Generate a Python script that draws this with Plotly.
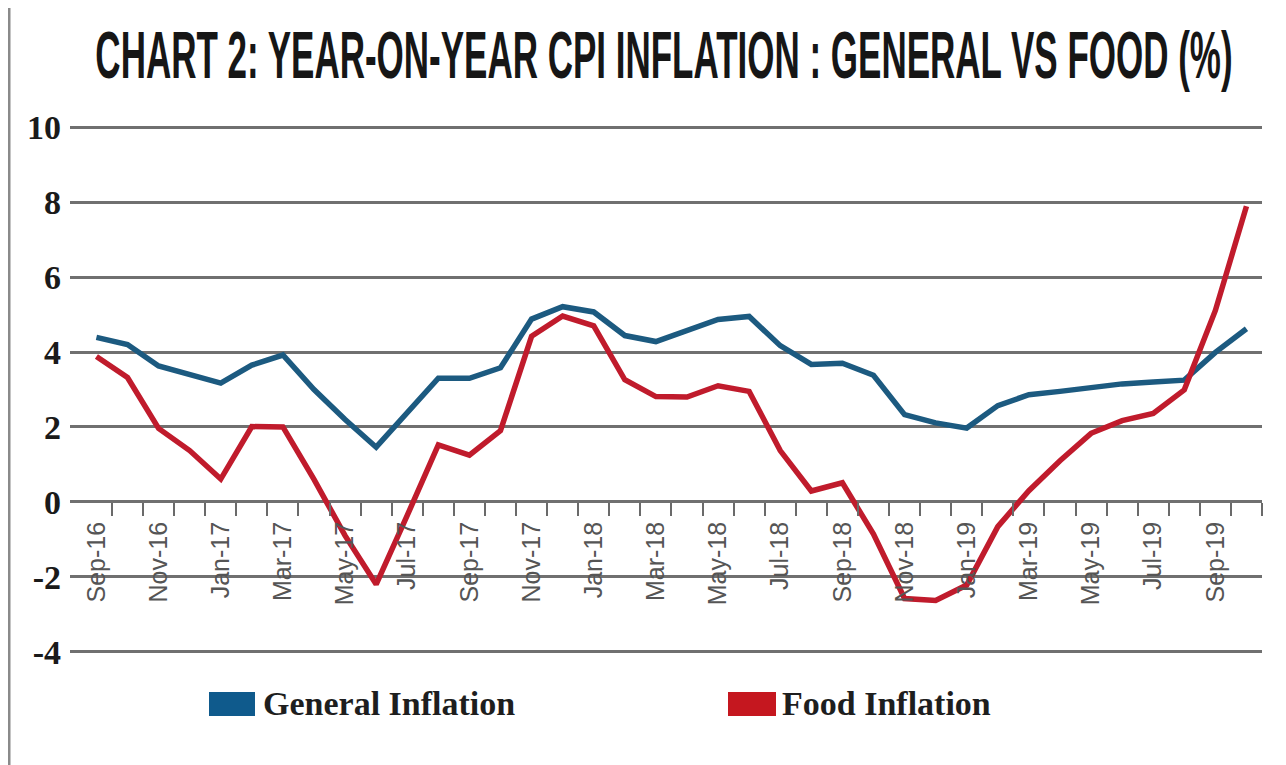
import plotly.graph_objects as go

# ---------------- data ----------------
months = ["Sep-16", "Oct-16", "Nov-16", "Dec-16", "Jan-17", "Feb-17", "Mar-17", "Apr-17",
          "May-17", "Jun-17", "Jul-17", "Aug-17", "Sep-17", "Oct-17", "Nov-17", "Dec-17",
          "Jan-18", "Feb-18", "Mar-18", "Apr-18", "May-18", "Jun-18", "Jul-18", "Aug-18",
          "Sep-18", "Oct-18", "Nov-18", "Dec-18", "Jan-19", "Feb-19", "Mar-19", "Apr-19",
          "May-19", "Jun-19", "Jul-19", "Aug-19", "Sep-19", "Oct-19"]

general_inflation = [4.39, 4.20, 3.63, 3.41, 3.17, 3.65, 3.92, 3.00, 2.20, 1.46, 2.36, 3.30,
                     3.30, 3.58, 4.88, 5.21, 5.07, 4.44, 4.28, 4.58, 4.87, 4.95, 4.17, 3.67,
                     3.70, 3.38, 2.33, 2.11, 1.97, 2.57, 2.86, 2.95, 3.05, 3.15, 3.20, 3.25,
                     3.99, 4.62]

food_inflation = [3.88, 3.32, 1.96, 1.37, 0.61, 2.01, 2.00, 0.60, -0.90, -2.20, -0.36, 1.52,
                  1.25, 1.90, 4.42, 4.96, 4.70, 3.26, 2.81, 2.80, 3.10, 2.95, 1.37, 0.29,
                  0.51, -0.86, -2.58, -2.63, -2.22, -0.66, 0.30, 1.10, 1.83, 2.17, 2.36, 2.99,
                  5.11, 7.89]

series_names = ["General Inflation", "Food Inflation"]
y_ticks = [-4, -2, 0, 2, 4, 6, 8, 10]
title_text = "CHART 2: YEAR-ON-YEAR CPI INFLATION : GENERAL VS FOOD (%)"

# ---------------- style ----------------
BLUE_LINE = "#1c5a80"
RED_LINE = "#c01b2c"
BLUE_KEY = "#0f5a8c"
RED_KEY = "#c5171f"
GRID = "#707070"

OFF = 8                      # page body margin
W, H = 1286 - OFF, 765 - OFF
L, R, T, B = 62, 24, 117, 111
plot_w = W - L - R
plot_h = H - T - B
y_lo, y_hi = y_ticks[0] - 0.06, y_ticks[-1] + 0.06


def px_x(p):                 # screen pixel -> paper x
    return (p - OFF - L) / plot_w


def px_y(p):                 # screen pixel -> paper y
    return (H - B - (p - OFF)) / plot_h


idx = list(range(len(months)))

fig = go.Figure()
fig.add_trace(go.Scatter(x=idx, y=general_inflation, mode="lines", name=series_names[0],
                         line=dict(color=BLUE_LINE, width=5.5), showlegend=False))
fig.add_trace(go.Scatter(x=idx, y=food_inflation, mode="lines", name=series_names[1],
                         line=dict(color=RED_LINE, width=5.5), showlegend=False))

# manual legend (coloured blocks + text)
legend_items = [
    (series_names[0], BLUE_KEY, 209, 255, 261),
    (series_names[1], RED_KEY, 728, 776, 780),
]
for name, col, x0, x1, tx in legend_items:
    fig.add_shape(type="rect", xref="paper", yref="paper",
                  x0=px_x(x0), x1=px_x(x1), y0=px_y(716), y1=px_y(692),
                  fillcolor=col, line=dict(width=0))
    fig.add_annotation(xref="paper", yref="paper", x=px_x(tx), y=px_y(703),
                       xanchor="left", yanchor="middle", showarrow=False, text=name,
                       font=dict(family="Liberation Serif", size=34, color="#1e1e1e",
                                 weight="bold"))

# frame line at left edge of the image
fig.add_shape(type="line", xref="paper", yref="paper",
              x0=px_x(9), x1=px_x(9), y0=px_y(0), y1=px_y(765),
              line=dict(color="#8a8a8a", width=3))

fig.update_layout(
    width=W, height=H,
    margin=dict(l=L, r=R, t=T, b=B, pad=0),
    paper_bgcolor="white", plot_bgcolor="white",
    showlegend=False,
    title=dict(text=title_text, x=(664 - OFF) / W, xanchor="center",
               y=1 - (55 - OFF) / H, yanchor="middle",
               font=dict(family="Liberation Sans", size=35, color="#161616",
                         weight="bold")),
    xaxis=dict(
        range=[-0.85, 37.5],
        tickmode="array", tickvals=idx[::2], ticktext=months[::2],
        tickangle=-90, ticks="outside", ticklen=0, ticklabelstandoff=9,
        tickfont=dict(family="Liberation Sans", size=25, color="#555555"),
        showgrid=False, zeroline=False, showline=False,
        anchor="free", position=(0 - y_lo) / (y_hi - y_lo),
        minor=dict(tickmode="array", tickvals=[i + 0.5 for i in idx],
                   ticks="outside", ticklen=13, tickwidth=2, tickcolor="#6a6a6a",
                   showgrid=False),
    ),
    yaxis=dict(
        range=[y_lo, y_hi],
        tickmode="array", tickvals=y_ticks, ticktext=[str(v) for v in y_ticks],
        ticks="", ticklabelstandoff=8,
        tickfont=dict(family="Liberation Serif", size=34, color="#1a1a1a", weight="bold"),
        showgrid=True, gridcolor=GRID, gridwidth=2.5,
        zeroline=False, showline=False,
    ),
)

# tall headline look: stretch the title text vertically about its baseline
post = """
var gd = document.getElementById('{plot_id}');
var t = gd ? gd.querySelector('text.gtitle') : null;
if (t) {
  var base = %d, cx = %d, s = 1.88;
  t.setAttribute('x', cx);
  t.setAttribute('y', base);
  t.setAttribute('dy', '0');
  t.setAttribute('transform', 'translate(0,' + base + ') scale(1,' + s + ') translate(0,' + (-base) + ')');
}
""" % (78 - OFF, 664 - OFF)

fig.write_html("out.html", post_script=post)
